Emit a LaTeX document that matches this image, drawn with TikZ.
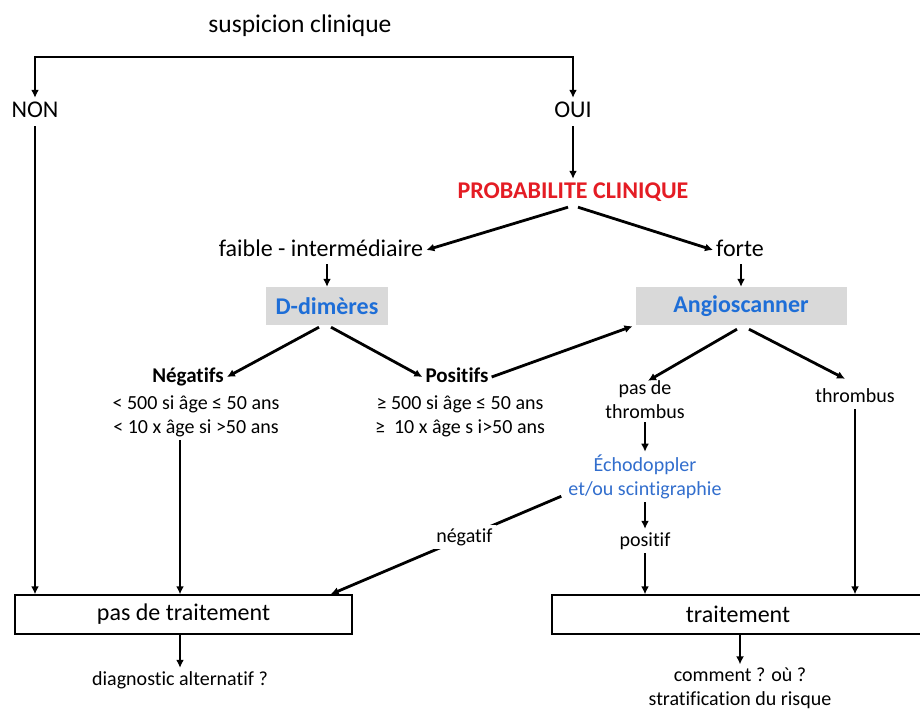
\documentclass[tikz,border=0pt]{standalone}
\usepackage{fontspec}
\setmainfont{Carlito}[Ligatures={NoCommon,NoContextual}]
\usetikzlibrary{arrows.meta,calc}
\definecolor{probred}{RGB}{228,28,36}
\definecolor{dblue}{RGB}{30,110,215}
\definecolor{eblue}{RGB}{50,110,205}
\definecolor{boxgray}{RGB}{217,217,217}
\begin{document}
\begin{tikzpicture}[x=1pt,y=-1pt,
  big/.style={font=\fontsize{24}{29}\selectfont, inner sep=3pt, text height=17pt, text depth=5pt},
  small/.style={font=\fontsize{20}{24}\selectfont, inner sep=3pt, align=center},
  sline/.style={font=\fontsize{20}{24}\selectfont, inner sep=3pt, text height=14pt, text depth=4pt},
  arr/.style={line width=2.8pt, -{Latex[length=8pt,width=8pt]}},
  grbox/.style={fill=boxgray, minimum height=38pt, inner sep=0pt, font=\fontsize{24}{29}\bfseries\selectfont, text=dblue},
  wbox/.style={draw, line width=1.4pt, minimum height=39pt, inner sep=0pt, font=\fontsize{24}{29}\selectfont}]
\useasboundingbox (0,0) rectangle (920,711);

\node[big, font=\fontsize{25.5}{30}\selectfont] (susp) at (300,27) {suspicion clinique};
\coordinate (split) at (300,57);
\node[big] (non) at (35,112) {NON};
\node[big] (oui) at (573,112) {OUI};
\node[big, font=\fontsize{24}{29}\bfseries\selectfont, text=probred] (prob) at (573,193) {PROBABILITE CLINIQUE};
\node[big] (faible) at (321,250) {faible - intermédiaire};
\node[big] (forte) at (740,250) {forte};
\node[grbox, minimum width=122pt] (ddim) at (327,306) {D-dimères};
\node[grbox, minimum width=211pt] (angio) at (741,306) {Angioscanner};
\node[sline, font=\fontsize{21}{24}\bfseries\selectfont] (neg) at (188,377) {Négatifs};
\node[small] (negtxt) at (196,416) {< 500 si âge ≤ 50 ans\\< 10 x âge si >50 ans};
\node[sline, font=\fontsize{21}{24}\bfseries\selectfont] (pos) at (457,377) {Positifs};
\node[small] (postxt) at (460,416) {≥ 500 si âge ≤ 50 ans\\≥~ 10 x âge s i>50 ans};
\node[small] (pdt) at (645,400) {pas de\\thrombus};
\node[sline] (thr) at (855,397) {thrombus};
\node[small, text=eblue] (echo) at (645,477) {Échodoppler\\et/ou scintigraphie};
\node[sline] (posf) at (645,541) {positif};
\node[wbox, minimum width=337pt] (ptr) at (183.5,614.5) {pas de traitement};
\node[wbox, minimum width=372pt] (tr) at (738,614.5) {traitement};
\node[sline] (diag) at (180,680) {diagnostic alternatif ?};
\node[small] (comm) at (740,688) {comment ? où ?\\stratification du risque};

\draw[arr] (split) -| (non.north);
\draw[arr] (split) -| (oui.north);
\draw[arr] (oui.south) -- (prob.north);
\draw[arr] ($(prob.south)+(-5,0)$) -- (faible.east);
\draw[arr] ($(prob.south)+(5,0)$) -- (forte.west);
\draw[arr] (ddim.north |- faible.south) -- (ddim.north);
\draw[arr] (angio.north |- forte.south) -- (angio.north);
\draw[arr] ($(ddim.south)+(-8,2)$) -- (neg.east);
\draw[arr] ($(ddim.south)+(4,2)$) -- (pos.west);
\draw[arr, shorten >=3pt] (pos.east) -- (angio.south west);
\draw[arr] ($(angio.south)+(-4,4)$) -- ($(pdt.north)+(3,3)$);
\draw[arr] ($(angio.south)+(8,4)$) -- ($(thr.north)+(-10,-6)$);
\draw[arr] (pdt.south) -- (echo.north);
\draw[arr] (echo.south) -- (posf.north);
\draw[arr] (posf.south) -- (posf.south |- tr.north);
\draw[arr] ($(echo.south west)+(-4,-6)$) -- node[sline, fill=white, pos=0.42] (negf) {négatif} ($(ptr.north east)+(-22,0)$);
\draw[arr] (thr.south) -- (thr.south |- tr.north);
\draw[arr] (non.south) -- (non.south |- ptr.north);
\draw[arr] (negtxt.south -| 180,0) -- (180,0 |- ptr.north);
\draw[arr] (ptr.south -| diag.north) -- (diag.north);
\draw[arr] (tr.south -| comm.north) -- (comm.north);
\end{tikzpicture}
\end{document}
